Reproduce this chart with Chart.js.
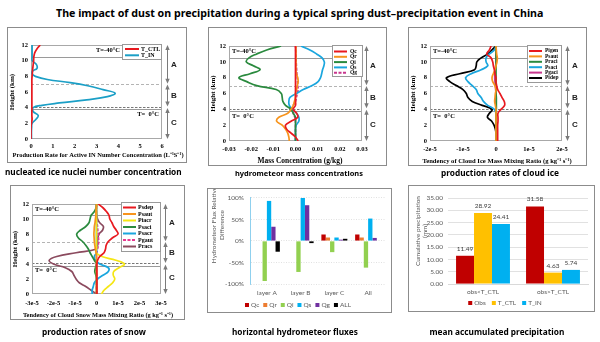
<!DOCTYPE html>
<html><head><meta charset="utf-8">
<script src="https://cdn.jsdelivr.net/npm/chart.js@4/dist/chart.umd.min.js"></script>
<style>
html,body{margin:0;padding:0;background:#fff;}
#page{position:relative;width:600px;height:342px;overflow:hidden;background:#fff;}
.box{position:absolute;border:1px solid #8c8c8c;box-sizing:border-box;pointer-events:none;}
.txt{position:absolute;white-space:nowrap;color:#000;}
</style></head><body><div id="page"></div>
<script>
// ================= DATA =================
// Heights (km) for vertical profiles
const HEIGHTS = [0,0.5,1,1.5,2,2.5,3,3.5,4,4.5,5,5.5,6,6.5,7,7.5,8,8.5,9,9.5,10,10.5,11,11.5,12];
const P1_HEIGHTS = [0,0.5,1,1.5,2,2.5,3,3.5,4,4.3,4.6,5,5.4,5.85,6.3,6.8,7.2,7.6,8,8.3,8.7,9,9.5,10,10.5,11,11.5,12];

// Panel 1: production rate for active IN number concentration (L-1 s-1)
const P1_T_CTL = [0,0,0,0,0.02,0.05,0.04,0.04,0.04,0.04,0.04,0.04,0.04,0.04,0.04,0.04,0.04,0.04,0.05,0.06,0.07,0.08,0.1,0.12,0.13,0.17,0.27,0.42];
const P1_T_IN  = [0.02,0.02,0.02,0.03,0.05,0.22,0.33,0.1,0.1,0.5,1.3,2.55,3.5,3.85,3.3,2.6,1.8,0.75,0.2,0.05,0.08,0.27,0.25,0.06,0.05,0.05,0.05,0.05];

// Panel 2: mass concentration difference (g/kg), 0..12 km
const P2_QC = [0.0012,0,-0.002,-0.004,-0.0045,-0.002,0.001,0.0005,-0.001,0,0,0,0,0,0,0,0,0,0,0,0,0,0,0,0];
const P2_QR = [-0.0028,-0.003,-0.0035,-0.0045,-0.006,-0.0085,-0.0075,-0.0035,-0.002,-0.001,-0.0005,0,0,0.0005,0.0008,0.0012,0.001,0.0004,0.0002,0.0002,0.0002,0.0002,0.0002,0.0002,0.0002];
const P2_QI = [0,0,0,0,0,0,0,-0.001,-0.002,-0.0045,-0.0057,-0.006,-0.0064,-0.0087,-0.0175,-0.022,-0.0255,-0.0205,-0.016,-0.019,-0.0222,-0.021,-0.0175,-0.013,-0.0065];
const P2_QS = [0,0,0,0,0.0003,0.0015,0.0015,0.0005,-0.0015,-0.0028,-0.003,-0.0025,0.0005,0.0035,0.0075,0.0102,0.0113,0.0118,0.0122,0.0128,0.013,0.012,0.0095,0.0065,0.0025];
const P2_QG = [0,0,0,0,0,0,-0.0003,-0.001,-0.0015,-0.001,0,0.0004,0.0008,0.0012,0.001,0.0009,0.0008,0.0006,0.0005,0.0004,0.0003,0.0002,0.0002,0.0001,0];

// Panel 3: cloud ice tendencies (units of 1e-5 g kg-1 s-1), 0..12 km
const P3_PIGEN = [0.05,0.05,0.05,0.05,0.05,0.06,0.06,0.06,0.15,0.26,0.25,0.18,0.12,0.05,0.02,0,0,-0.03,-0.05,-0.08,-0.1,-0.15,-0.28,-0.2,-0.15];
const P3_PSAUT = [0,0,0,0,0,0,0,0,0,-0.02,-0.04,-0.03,-0.02,0,-0.03,-0.1,-0.12,-0.08,-0.03,0,0.03,0.04,0.02,0.01,0];
const P3_PRACI = [0,0,0,0,0,0,0,0,0.01,0.01,0.01,0.01,0,0,0,0,0,0,0,0,0,0,0,0,0];
const P3_PSACI = [0,0,0,0,0,0,0,0,-0.05,-0.25,-0.38,-0.45,-0.55,-0.6,-0.72,-0.85,-0.92,-0.75,-0.45,-0.25,-0.3,-0.3,-0.2,-0.05,0];
const P3_PGACI = [0,0,0,0,0,0,0,0,0,0,0,0,0,-0.01,-0.02,-0.03,-0.04,-0.03,-0.02,-0.01,0,0,0,0,0];
const P3_PIDEP = [0,0,0,-0.02,-0.06,-0.13,-0.26,-0.2,-0.12,-0.42,-0.72,-0.85,-0.9,-1.0,-1.2,-1.4,-1.5,-1.1,-0.65,-0.6,-0.58,-0.45,-0.25,-0.12,0];

// Panel 4: cloud snow tendencies (units of 1e-5 g kg-1 s-1), 0..12 km
const P4_PSDEP = [0.02,0.02,0.02,0.02,0.02,0.02,0.02,0.02,0.02,0.05,0.15,0.35,0.42,0.45,0.55,0.75,1.0,0.92,0.8,0.72,0.62,0.58,0.46,0.3,0.08];
const P4_PSAUT = [0,0,0,0,0,0,0,0,0,0,0,-0.02,-0.05,-0.08,-0.1,-0.11,-0.12,-0.11,-0.1,-0.07,-0.05,-0.03,-0.02,-0.01,0];
const P4_PIACR = [0.23,0.35,0.55,0.75,0.85,0.78,0.8,1.05,1.3,0.9,0.25,-0.02,0,0,0,0,0,0,0,0,0,0,0,0,0];
const P4_PSACI = [0,0,0,0,0,-0.03,-0.08,-0.05,0,-0.1,-0.2,-0.3,-0.38,-0.5,-0.65,-0.85,-0.92,-0.75,-0.5,-0.35,-0.3,-0.25,-0.1,-0.02,0];
const P4_PSACR = [-0.2,-0.2,-0.15,-0.1,0.05,0.3,0.55,0.55,0.15,-0.05,-0.1,0,0,0,0,0,0,0,0,0,0,0,0,0,0];
const P4_PGAUT = [0,0,0,0,0,0,-0.02,-0.02,-0.02,0,0,0.02,0.05,0.08,0.1,0.09,0.08,0.06,0.05,0.02,0,0,0,0,0];
const P4_PRACS = [0,-0.25,-0.5,-0.8,-0.95,-1.05,-1.15,-1.45,-2.0,-2.2,-1.85,-0.95,0,0.05,0.05,0.06,0.12,0.28,0.32,0.15,0.05,0.02,0,0,0];

// Panel 5: horizontal hydrometeor flux relative difference (%)
const P5_CATS = ['layer A','layer B','layer C','All'];
const P5_QC  = [0,0,15,15];
const P5_QR  = [0,0,8,8];
const P5_QI  = [-93,-72,-26,-62];
const P5_QS  = [93,100,8,52];
const P5_QG  = [33,83,3,7];
const P5_ALL = [-25,-5,5,1];

// Panel 6: mean accumulated precipitation (mm)
const P6_CATS = ['obs<T_CTL','obs>T_CTL'];
const P6_OBS  = [11.49,31.58];
const P6_TCTL = [28.92,4.63];
const P6_TIN  = [24.41,5.74];

// ================= RENDERING =================
const SERIF = "'Liberation Serif','Times New Roman',serif";
const SANS = "Lato,'Liberation Sans',sans-serif";
const page = document.getElementById('page');
const RED='#e8191f', TEAL='#1b9fc6', ORANGE='#f7941d', GREEN='#2a8a3e', CYAN='#1aa6de', MAG='#c8378e', YEL='#f5e614', BROWN='#8b4a5e';

function measureFit(txt, weight, family, w){
  const c=document.createElement('canvas').getContext('2d');
  c.font=weight+' 100px '+family;
  return 100*w/c.measureText(txt).width;
}
function placeText(txt,cx,cy,w,weight,family){
  const size=measureFit(txt,weight,family,w);
  const d=document.createElement('div');
  d.className='txt'; d.textContent=txt;
  d.style.font=weight+' '+size+'px '+family;
  d.style.lineHeight=(size*1.2)+'px';
  d.style.left=(cx-w/2)+'px'; d.style.top=(cy-size*0.6)+'px';
  page.appendChild(d);
}
function mkCanvas(o){
  const cv=document.createElement('canvas');
  cv.width=o.w; cv.height=o.h;
  cv.style.cssText='position:absolute;left:'+o.left+'px;top:'+o.top+'px;width:'+o.w+'px;height:'+o.h+'px;';
  page.appendChild(cv);
  const b=document.createElement('div');
  b.className='box';
  b.style.cssText='left:'+o.left+'px;top:'+o.top+'px;width:'+o.w+'px;height:'+o.h+'px;';
  page.appendChild(b);
  return cv;
}

function profileChart(o){
  const cv=mkCanvas(o);
  const datasets=o.series.map(s=>({
    label:s.label,
    data:o.heights.map((h,i)=>({x:s.values[i],y:h})),
    borderColor:s.color, borderWidth:s.width||1.7, borderDash:s.dash||[],
    tension:0.4, pointRadius:0, showLine:true, fill:false
  }));
  const tickFont={family:SERIF,weight:'bold',size:6.5};
  const decor={
    id:'decor',
    beforeDatasetsDraw(ch){
      const {ctx,chartArea:a,scales:{y}}=ch;
      ctx.save();
      const hl=(v,c,d)=>{const py=Math.round(y.getPixelForValue(v))+0.5;ctx.strokeStyle=c;ctx.lineWidth=1;ctx.setLineDash(d);ctx.beginPath();ctx.moveTo(a.left,py);ctx.lineTo(a.right,py);ctx.stroke();};
      hl(10.5,'#9a9a9a',[]); hl(7,'#b4b4b4',[3,2]); hl(4.1,'#777',[2.5,1.5]); hl(3.8,'#9a9a9a',[]);
      ctx.setLineDash([]); ctx.strokeStyle='#a8a8a8'; ctx.lineWidth=1;
      ctx.strokeRect(a.left+0.5,a.top+0.5,a.right-a.left-1,a.bottom-a.top-1);
      ctx.restore();
    },
    afterDatasetsDraw(ch){
      const {ctx,chartArea:a,scales:{y}}=ch;
      ctx.save();
      // temperature labels
      ctx.fillStyle='#000'; ctx.font='bold 6.5px '+SERIF; ctx.textBaseline='middle';
      if(o.tSide==='right'){
        ctx.textAlign='right';
        ctx.fillText('T=-40\u00B0C',o.t40x,y.getPixelForValue(11.3));
        ctx.fillText('T=  0\u00B0C',o.t0x,y.getPixelForValue(3.1));
      } else {
        ctx.textAlign='left';
        ctx.fillText('T=-40\u00B0C',a.left+3,y.getPixelForValue(11.3));
        ctx.fillText('T=  0\u00B0C',a.left+3,y.getPixelForValue(3.1));
      }
      // legend
      const L=o.legend;
      ctx.fillStyle='#fff'; ctx.fillRect(L.x,L.y,L.w,L.h);
      ctx.strokeStyle='#999'; ctx.lineWidth=1; ctx.strokeRect(L.x+0.5,L.y+0.5,L.w-1,L.h-1);
      o.series.forEach((s,i)=>{
        const yy=L.row0+i*L.dy;
        ctx.strokeStyle=s.color; ctx.lineWidth=2; ctx.setLineDash(s.dash||[]);
        ctx.beginPath(); ctx.moveTo(L.lx0,yy); ctx.lineTo(L.lx1,yy); ctx.stroke();
        ctx.setLineDash([]);
        ctx.fillStyle='#000'; ctx.font='bold '+L.size+'px '+SERIF; ctx.textAlign='left'; ctx.textBaseline='middle';
        ctx.fillText(s.label,L.tx,yy);
      });
      // arrows A/B/C
      const ax=o.arrowX+0.5;
      ctx.strokeStyle='#7a7a7a'; ctx.fillStyle='#7a7a7a'; ctx.lineWidth=1;
      const head=(yy,dir)=>{ctx.beginPath();ctx.moveTo(ax,yy);ctx.lineTo(ax-2.2,yy-dir*5);ctx.lineTo(ax+2.2,yy-dir*5);ctx.closePath();ctx.fill();};
      [[12,7.05],[6.95,4.15],[3.95,0]].forEach(([t,b])=>{
        const y1=y.getPixelForValue(t), y2=y.getPixelForValue(b);
        ctx.beginPath(); ctx.moveTo(ax,y1+2); ctx.lineTo(ax,y2-2); ctx.stroke();
        head(y1,-1); head(y2,1);
      });
      ctx.fillStyle='#222'; ctx.font="bold 8px 'Liberation Sans',Arial,sans-serif"; ctx.textAlign='center'; ctx.textBaseline='middle';
      ctx.fillText('A',o.labX,y.getPixelForValue(9.5));
      ctx.fillText('B',o.labX,y.getPixelForValue(5.5));
      ctx.fillText('C',o.labX,y.getPixelForValue(2.1));
      // axis titles
      ctx.fillStyle='#000';
      const fs=measureFit(o.xTitle,'bold',SERIF,o.xTitleW);
      ctx.font='bold '+fs+'px '+SERIF; ctx.textAlign='center'; ctx.textBaseline='middle';
      ctx.fillText(o.xTitle,o.xTitleX,o.xTitleY);
      ctx.save();
      ctx.translate(o.yTitleX,(a.top+a.bottom)/2); ctx.rotate(-Math.PI/2);
      ctx.font='bold 7px '+SERIF; ctx.fillText('Height (km)',0,0);
      ctx.restore();
      ctx.restore();
    }
  };
  return new Chart(cv,{
    type:'scatter',
    data:{datasets},
    options:{
      responsive:false, animation:false, events:[],
      layout:{padding:{left:0,top:o.pad.t,right:o.pad.r,bottom:0}},
      plugins:{legend:{display:false},tooltip:{enabled:false}},
      scales:{
        x:{type:'linear',min:o.xmin,max:o.xmax,grid:{display:false,drawTicks:false},border:{display:false},
           ticks:{stepSize:o.xstep,padding:o.xpad,color:'#000',font:tickFont,callback:o.xfmt,maxRotation:0,autoSkip:false},
           afterFit:s=>{s.height=o.pad.b;}},
        y:{type:'linear',min:0,max:12,grid:{display:false,drawTicks:false},border:{display:false},
           ticks:{stepSize:2,padding:3,color:'#000',font:tickFont},
           afterFit:s=>{s.width=o.pad.l;}}
      }
    },
    plugins:[decor]
  });
}

const eFmt=v=>{const r=Math.round(v*1000)/1000; return r===0?'0':r+'e-5';};

// Panel 1
profileChart({
  left:7,top:27,w:180,h:136,pad:{l:24,t:18,r:25,b:24},
  heights:P1_HEIGHTS, xmin:0,xmax:6,xstep:1,xpad:3,xfmt:v=>String(Math.round(v)),
  series:[{label:'T_CTL',values:P1_T_CTL,color:RED},{label:'T_IN',values:P1_T_IN,color:TEAL}],
  legend:{x:115,y:17,w:40,h:16,row0:22,dy:6.3,lx0:118,lx1:132,tx:134,size:6},
  tSide:'right', t40x:113, t0x:152,
  xTitle:'Production Rate for Active IN Number Concentration (L\u207B\u00B9S\u207B\u00B9)', xTitleX:91, xTitleY:128, xTitleW:172,
  yTitleX:5, arrowX:160, labX:167
});
// Panel 2
profileChart({
  left:208,top:27,w:179,h:139,pad:{l:21,t:19,r:25,b:25},
  heights:HEIGHTS, xmin:-0.03,xmax:0.03,xstep:0.01,xpad:4,xfmt:v=>Math.abs(v)<1e-9?'0.00':v.toFixed(2),
  series:[{label:'Qc',values:P2_QC,color:RED},{label:'Qr',values:P2_QR,color:ORANGE},{label:'Qi',values:P2_QI,color:GREEN},
          {label:'Qs',values:P2_QS,color:CYAN},{label:'Qg',values:P2_QG,color:MAG,dash:[3,1.5]}],
  legend:{x:124,y:18,w:31,h:32,row0:24.5,dy:5.3,lx0:126,lx1:139,tx:142,size:5.5},
  tSide:'left',
  xTitle:'Mass Concentration (g/kg)', xTitleX:92, xTitleY:134, xTitleW:85,
  yTitleX:5, arrowX:158, labX:165
});
// Panel 3
profileChart({
  left:408,top:27,w:179,h:139,pad:{l:22,t:19,r:25,b:25},
  heights:HEIGHTS, xmin:-2,xmax:2,xstep:1,xpad:4,xfmt:eFmt,
  series:[{label:'Pigen',values:P3_PIGEN,color:RED},{label:'Psaut',values:P3_PSAUT,color:ORANGE},{label:'Praci',values:P3_PRACI,color:GREEN},
          {label:'Psaci',values:P3_PSACI,color:CYAN},{label:'Pgaci',values:P3_PGACI,color:MAG},{label:'Pidep',values:P3_PIDEP,color:'#000'}],
  legend:{x:119,y:18,w:35,h:38,row0:24,dy:5.4,lx0:121,lx1:134,tx:137,size:5.5},
  tSide:'left',
  xTitle:'Tendency of Cloud Ice Mass Mixing Ratio (g kg\u207B\u00B9 s\u207B\u00B9)', xTitleX:89, xTitleY:134, xTitleW:150,
  yTitleX:5, arrowX:159, labX:167
});
// Panel 4
profileChart({
  left:10,top:185,w:175,h:135,pad:{l:22,t:19,r:24,b:26},
  heights:HEIGHTS, xmin:-3,xmax:3,xstep:1,xpad:5,xfmt:eFmt,
  series:[{label:'Psdep',values:P4_PSDEP,color:RED},{label:'Psaut',values:P4_PSAUT,color:ORANGE},{label:'Piacr',values:P4_PIACR,color:YEL},
          {label:'Psaci',values:P4_PSACI,color:GREEN},{label:'Psacr',values:P4_PSACR,color:CYAN},{label:'Pgaut',values:P4_PGAUT,color:'#e8378f',dash:[3,1.5]},
          {label:'Pracs',values:P4_PRACS,color:BROWN}],
  legend:{x:111,y:17,w:40,h:50,row0:22.5,dy:6.5,lx0:113,lx1:126,tx:128,size:6},
  tSide:'left',
  xTitle:'Tendency of Cloud Snow Mass Mixing Ratio (g kg\u207B\u00B9 s\u207B\u00B9)', xTitleX:88, xTitleY:130.5, xTitleW:151,
  yTitleX:5, arrowX:155, labX:162
});

// ---- bar charts ----
function boxLegend(ctx,items,cx,cy,size,gapItem){
  ctx.font=size+'px '+SANS;
  const sq=4, g=2;
  const widths=items.map(it=>sq+g+ctx.measureText(it.label).width);
  const total=widths.reduce((p,q)=>p+q,0)+gapItem*(items.length-1);
  let x=cx-total/2;
  items.forEach((it,i)=>{
    ctx.fillStyle=it.color; ctx.fillRect(x,cy-sq/2,sq,sq);
    ctx.fillStyle='#595959'; ctx.textAlign='left'; ctx.textBaseline='middle';
    ctx.fillText(it.label,x+sq+g,cy);
    x+=widths[i]+gapItem;
  });
}
function rotTitle(ctx,lines,xs,cy,size){
  ctx.save(); ctx.fillStyle='#595959'; ctx.font=size+'px '+SANS; ctx.textAlign='center'; ctx.textBaseline='middle';
  lines.forEach((t,i)=>{ctx.save();ctx.translate(xs[i],cy);ctx.rotate(-Math.PI/2);ctx.fillText(t,0,0);ctx.restore();});
  ctx.restore();
}
const barTick={family:SANS,size:6.5};

// Panel 5
(function(){
  const o={left:207,top:188,w:185,h:125};
  const cv=mkCanvas(o);
  const sets=[['Qc',P5_QC,'#c00000'],['Qr',P5_QR,'#ed7d31'],['Qi',P5_QI,'#92d050'],['Qs',P5_QS,'#00b0f0'],['Qg',P5_QG,'#7030a0'],['ALL',P5_ALL,'#000000']];
  new Chart(cv,{
    type:'bar',
    data:{labels:P5_CATS,datasets:sets.map(s=>({label:s[0],data:s[1],backgroundColor:s[2],categoryPercentage:0.77,barPercentage:1}))},
    options:{
      responsive:false,animation:false,events:[],
      layout:{padding:{left:0,top:9,right:7,bottom:0}},
      plugins:{legend:{display:false},tooltip:{enabled:false}},
      scales:{
        x:{grid:{display:false,drawTicks:false},border:{display:false},ticks:{padding:5,color:'#595959',font:barTick},afterFit:s=>{s.height=29;}},
        y:{min:-100,max:100,grid:{color:'#d9d9d9',drawTicks:false,lineWidth:0.8},border:{display:true,color:'#8fd0ee',dash:[1,1.5]},
           ticks:{stepSize:50,padding:6,color:'#595959',font:barTick,callback:v=>v+'%'},afterFit:s=>{s.width=43;}}
      }
    },
    plugins:[{id:'p5',afterDraw(ch){
      const ctx=ch.ctx;
      boxLegend(ctx,sets.map(s=>({label:s[0],color:s[2]})),91,117,6.5,4);
      rotTitle(ctx,['Hydrometeor Flux Relative','Difference'],[7,15],37,6.5);
    }}]
  });
})();

// Panel 6
(function(){
  const o={left:408,top:185,w:187,h:127};
  const cv=mkCanvas(o);
  const sets=[['Obs',P6_OBS,'#c00000'],['T_CTL',P6_TCTL,'#ffc000'],['T_IN',P6_TIN,'#00b0f0']];
  new Chart(cv,{
    type:'bar',
    data:{labels:P6_CATS,datasets:sets.map(s=>({label:s[0],data:s[1],backgroundColor:s[2],categoryPercentage:0.77,barPercentage:1}))},
    options:{
      responsive:false,animation:false,events:[],
      layout:{padding:{left:0,top:13,right:7,bottom:0}},
      plugins:{legend:{display:false},tooltip:{enabled:false}},
      scales:{
        x:{grid:{display:false,drawTicks:false},border:{display:true,color:'#d9d9d9'},ticks:{padding:4,color:'#595959',font:barTick},afterFit:s=>{s.height=28;}},
        y:{min:0,max:35,grid:{color:'#d9d9d9',drawTicks:false,lineWidth:0.8},border:{display:false},
           ticks:{stepSize:5,padding:5,color:'#595959',font:barTick,callback:v=>v.toFixed(2)},afterFit:s=>{s.width=40;}}
      }
    },
    plugins:[{id:'p6',afterDatasetsDraw(ch){
      const ctx=ch.ctx;
      ctx.save(); ctx.fillStyle='#404040'; ctx.font='6.5px '+SANS; ctx.textAlign='center'; ctx.textBaseline='middle';
      ch.data.datasets.forEach((d,i)=>{ch.getDatasetMeta(i).data.forEach((el,j)=>{ctx.fillText(d.data[j].toFixed(2),el.x,el.y-7);});});
      ctx.restore();
    },afterDraw(ch){
      const ctx=ch.ctx;
      boxLegend(ctx,sets.map(s=>({label:s[0],color:s[2]})),97,118,6.5,6);
      rotTitle(ctx,['Cumulative precipitation','(mm)'],[10,17],46,6.5);
    }}]
  });
})();

// ---- title & captions ----
const CAPF="'Noto Sans','Open Sans',sans-serif";
placeText('The impact of dust on precipitation during a typical spring dust\u2013precipitation event in China',300,13,488,'bold',CAPF);
placeText('nucleated ice nuclei number concentration',93.5,172,177,'bold',CAPF);
placeText('hydrometeor mass concentrations',299,173,128,'bold',CAPF);
placeText('production rates of cloud ice',500,173,118,'bold',CAPF);
placeText('production rates of snow',94,332,104,'bold',CAPF);
placeText('horizontal hydrometeor fluxes',295,332,126,'bold',CAPF);
placeText('mean accumulated precipitation',497,332,135,'bold',CAPF);
</script></body></html>
